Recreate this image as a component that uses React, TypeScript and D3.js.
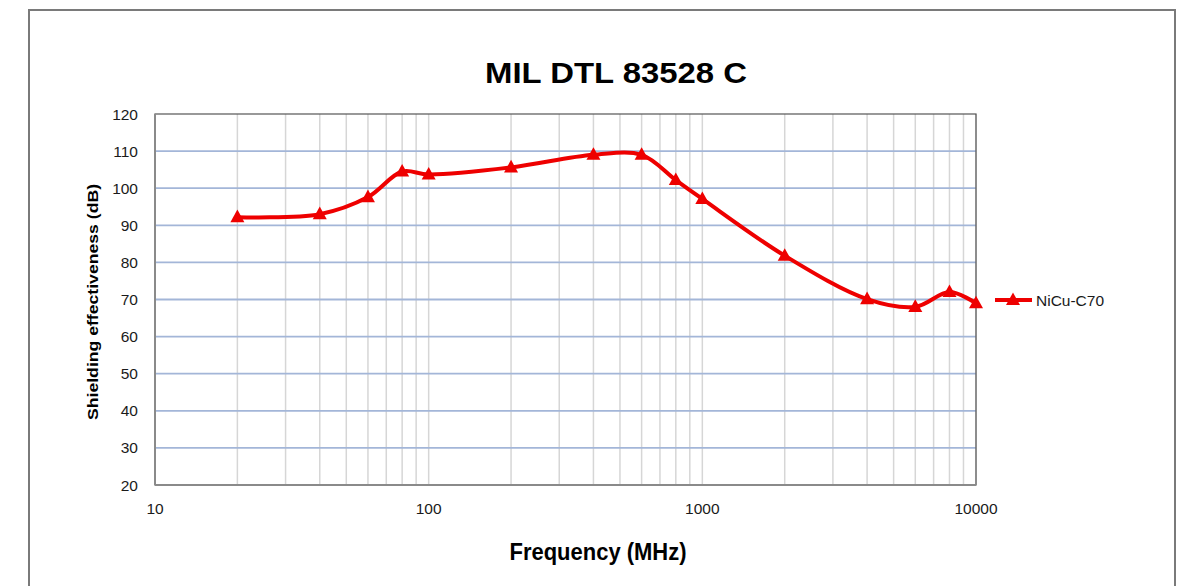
import React from "react";
import * as d3 from "d3";

const freqs = [20, 40, 60, 80, 100, 200, 400, 600, 800, 1000, 2000, 4000, 6000, 8000, 10000];
const shielding = [92.2, 93, 97.6, 104.5, 103.7, 105.6, 109, 109, 102.2, 97.1, 81.8, 70.1, 68, 72, 69];
const seriesName = "NiCu-C70";
const yTicks = [20, 30, 40, 50, 60, 70, 80, 90, 100, 110, 120];
const xTicks = [10, 100, 1000, 10000];
const title = "MIL DTL 83528 C";
const xTitle = "Frequency (MHz)";
const yTitle = "Shielding effectiveness (dB)";

const W = 1179, H = 586;
const L = 155, R = 976, T = 114, B = 485;
const RED = "#ee0000";

function tri(cx: number, cy: number, s: number) {
  const h = s * 0.9;
  return `M${cx},${cy - h * 0.6} L${cx + s / 2},${cy + h * 0.4} L${cx - s / 2},${cy + h * 0.4} Z`;
}

export default function App() {
  const x = d3.scaleLog().domain([10, 10000]).range([L, R]);
  const y = d3.scaleLinear().domain([20, 120]).range([B, T]);
  const minor: number[] = [];
  for (const d of [10, 100, 1000]) for (let k = 2; k <= 10; k++) minor.push(d * k);
  const pts = freqs.map((f, i) => [x(f), y(shielding[i])] as [number, number]);
  const line = d3.line().curve(d3.curveCatmullRom.alpha(0.5))(pts) || "";
  const font = "Liberation Sans, Arial, Helvetica, sans-serif";
  return (
    <svg width={W} height={H} style={{ position: "absolute", left: 0, top: 0 }}>
      <rect x={0} y={0} width={W} height={H} fill="#fff" />
      <rect x={29} y={10} width={1146} height={600} fill="#fff" stroke="#7a7a7a" strokeWidth={2} />
      {minor.map((m) => (
        <line key={"v" + m} x1={x(m)} x2={x(m)} y1={T} y2={B} stroke="#d6d6d6" strokeWidth={1.5} />
      ))}
      {yTicks.slice(1, -1).map((t) => (
        <line key={"h" + t} x1={L} x2={R} y1={y(t)} y2={y(t)} stroke="#a3b6d8" strokeWidth={1.8} />
      ))}
      <rect x={L} y={T} width={R - L} height={B - T} fill="none" stroke="#555" strokeWidth={1.2} />
      <line x1={L} x2={L} y1={T} y2={B} stroke="#8a8a8a" strokeWidth={2} />
      <line x1={L} x2={R} y1={B} y2={B} stroke="#8a8a8a" strokeWidth={2} />
      {yTicks.map((t) => (
        <text key={"yl" + t} x={138} y={y(t) + 5.5} textAnchor="end" fontFamily={font} fontSize={15.5} fill="#1a1a1a">{t}</text>
      ))}
      {xTicks.map((t) => (
        <text key={"xl" + t} x={x(t)} y={514} textAnchor="middle" fontFamily={font} fontSize={15.5} fill="#1a1a1a">{t}</text>
      ))}
      <path d={line} fill="none" stroke={RED} strokeWidth={4} strokeLinejoin="round" />
      {pts.map((p, i) => (
        <path key={"m" + i} d={tri(p[0], p[1], 14)} fill={RED} />
      ))}
      <line x1={995} x2={1032} y1={300} y2={300} stroke={RED} strokeWidth={4} />
      <path d={tri(1013, 300, 14)} fill={RED} />
      <text x={1036} y={305.5} fontFamily={font} fontSize={15.5} fill="#1a1a1a">{seriesName}</text>
      <text x={616} y={83} textAnchor="middle" fontFamily={font} fontWeight="bold" fontSize={29} fill="#000" textLength={262} lengthAdjust="spacingAndGlyphs">{title}</text>
      <text x={598} y={560} textAnchor="middle" fontFamily="Liberation Sans Narrow, Arial Narrow, Liberation Sans, sans-serif" fontWeight="bold" fontSize={23} fill="#000" textLength={177} lengthAdjust="spacingAndGlyphs">{xTitle}</text>
      <text transform={`translate(98,302) rotate(-90)`} textAnchor="middle" fontFamily={font} fontWeight="bold" fontSize={14} fill="#000" textLength={236} lengthAdjust="spacingAndGlyphs">{yTitle}</text>
    </svg>
  );
}
